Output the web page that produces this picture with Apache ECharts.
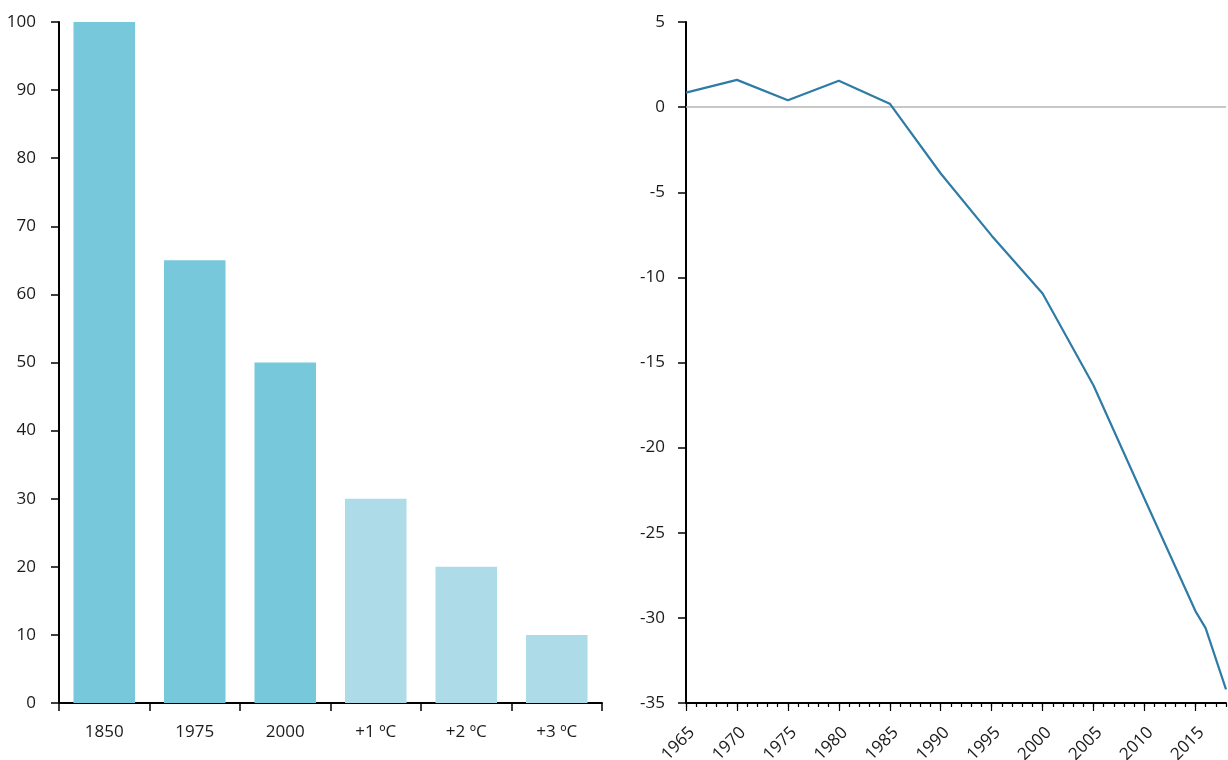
<!DOCTYPE html>
<html>
<head>
<meta charset="utf-8">
<script src="https://cdn.jsdelivr.net/npm/echarts@6/dist/echarts.min.js"></script>
<style>
html,body{margin:0;padding:0;background:#fff;}
#chart{width:1228px;height:760px;}
</style>
</head>
<body>
<div id="chart"></div>
<script>
// Left chart
var barCategories = ['1850', '1975', '2000', '+1 ºC', '+2 ºC', '+3 ºC'];
var barValues = [100, 65, 50, 30, 20, 10];
var barColors = ['#77c8da', '#77c8da', '#77c8da', '#addce8', '#addce8', '#addce8'];
var leftYTicks = [0, 10, 20, 30, 40, 50, 60, 70, 80, 90, 100];

// Right chart
var lineYears = [1965, 1970, 1975, 1980, 1985, 1990, 1995, 2000, 2005, 2010, 2015, 2016, 2018];
var lineValues = [0.85, 1.6, 0.4, 1.55, 0.2, -3.9, -7.55, -10.95, -16.35, -23.0, -29.6, -30.6, -34.2];
var rightXLabels = [1965, 1970, 1975, 1980, 1985, 1990, 1995, 2000, 2005, 2010, 2015];

var FONT = 'Open Sans';
var TXT = '#1a1a1a';
var FS = 17;

var chart = echarts.init(document.getElementById('chart'), null, {renderer: 'canvas'});
var option = {
  animation: false,
  textStyle: {fontFamily: FONT},
  grid: [
    {left: 59, right: 626, top: 22, bottom: 57, containLabel: false, outerBoundsMode: 'none'},
    {left: 686, right: 2, top: 22, bottom: 57, containLabel: false, outerBoundsMode: 'none'}
  ],
  xAxis: [
    {
      gridIndex: 0, type: 'category', data: barCategories,
      axisLine: {show: true, onZero: false, lineStyle: {color: '#000', width: 2}},
      axisTick: {show: true, alignWithLabel: false, length: 8, lineStyle: {color: '#000', width: 1.5}},
      axisLabel: {color: TXT, fontSize: FS, margin: 21, fontFamily: FONT},
      splitLine: {show: false}
    },
    {
      gridIndex: 1, type: 'value', min: 1965, max: 2018, interval: 1, position: 'bottom',
      axisLine: {show: true, onZero: false, lineStyle: {color: '#000', width: 2}},
      axisTick: {show: true, length: 4, lineStyle: {color: '#000', width: 1.2}},
      axisLabel: {show: false},
      splitLine: {show: false}
    },
    {
      gridIndex: 1, type: 'value', min: 1965, max: 2018, position: 'bottom', offset: 0,
      axisLine: {show: false, onZero: false},
      axisTick: {show: true, length: 8, customValues: rightXLabels, lineStyle: {color: '#000', width: 1.2}},
      axisLabel: {show: true, customValues: rightXLabels, rotate: 45, verticalAlign: 'top', color: TXT, fontSize: FS, margin: 21, fontFamily: FONT,
        formatter: function (v) { return String(v); }},
      splitLine: {show: false}
    }
  ],
  yAxis: [
    {
      gridIndex: 0, type: 'value', min: 0, max: 100, interval: 10,
      axisLine: {show: true, lineStyle: {color: '#000', width: 2}},
      axisTick: {show: true, length: 8, lineStyle: {color: '#000', width: 1.5}},
      axisLabel: {color: TXT, fontSize: FS, margin: 23, fontFamily: FONT},
      splitLine: {show: false}
    },
    {
      gridIndex: 1, type: 'value', min: -35, max: 5, interval: 5,
      axisLine: {show: true, lineStyle: {color: '#000', width: 2}},
      axisTick: {show: true, length: 8, lineStyle: {color: '#000', width: 1.5}},
      axisLabel: {color: TXT, fontSize: FS, margin: 21, fontFamily: FONT},
      splitLine: {show: false}
    }
  ],
  series: [
    {
      type: 'bar', xAxisIndex: 0, yAxisIndex: 0,
      barCategoryGap: '32%',
      data: barValues.map(function (v, i) { return {value: v, itemStyle: {color: barColors[i]}}; })
    },
    {
      type: 'line', xAxisIndex: 1, yAxisIndex: 1,
      data: lineYears.map(function (y, i) { return [y, lineValues[i]]; }),
      showSymbol: false, symbol: 'none',
      lineStyle: {color: '#2e7ba6', width: 2.2},
      z: 3,
      markLine: {
        silent: true, symbol: 'none', label: {show: false},
        lineStyle: {color: '#b5b5b5', width: 1.5, type: 'solid'},
        data: [{yAxis: 0}],
        z: 1
      }
    }
  ]
};
chart.setOption(option);
</script>
</body>
</html>
